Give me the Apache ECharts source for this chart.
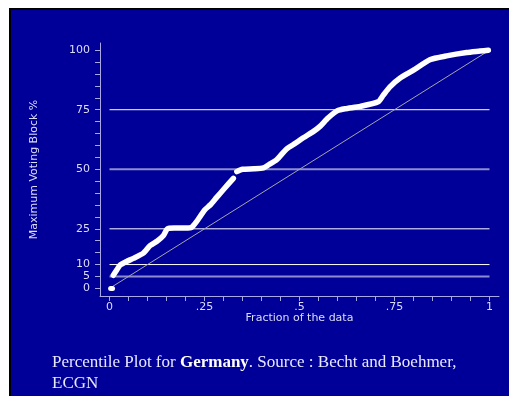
<!DOCTYPE html>
<html>
<head>
<meta charset="utf-8">
<script src="https://cdn.jsdelivr.net/npm/echarts@6/dist/echarts.min.js"></script>
<style>
  html, body { margin: 0; padding: 0; background: #ffffff; overflow: hidden; }
  #chart { width: 509px; height: 396px; }
</style>
</head>
<body>
<div id="chart"></div>
<script>
// Percentile plot: fraction of firms vs. maximum voting block (%)
const zeroFraction = [0.003, 0.008];
const zeroBlock = [0, 0];

const fraction = [0.010, 0.019, 0.028, 0.045, 0.063, 0.089, 0.107, 0.125, 0.142, 0.152,
                  0.170, 0.200, 0.216, 0.229, 0.251, 0.265, 0.282, 0.300, 0.326,
                  null,
                  0.335, 0.350, 0.380, 0.405, 0.420, 0.440, 0.466, 0.490, 0.510, 0.536,
                  0.554, 0.575, 0.600, 0.620, 0.660, 0.707, 0.720, 0.738, 0.765, 0.800,
                  0.843, 0.887, 0.940, 0.975, 0.997];
const maxBlock = [5.5, 7.7, 9.8, 11.3, 12.6, 14.8, 18.0, 19.8, 22.2, 24.9,
                  25.3, 25.3, 25.6, 28.0, 33.0, 35.0, 38.2, 41.5, 46.2,
                  null,
                  49.0, 50.0, 50.2, 50.6, 52.0, 54.0, 58.5, 61.0, 63.2, 65.8,
                  68.0, 71.5, 74.6, 75.4, 76.4, 78.3, 81.0, 84.6, 88.3, 91.6,
                  96.0, 97.6, 99.0, 99.6, 100.0];

// 45-degree reference line
const diagFraction = [0, 1];
const diagBlock = [0, 100];

// horizontal reference lines
const refLevels = [5, 10, 25, 50, 75];

// axis labels
const xLabelValues = [0, 0.25, 0.5, 0.75, 1];
const xLabelText = ['0', '.25', '.5', '.75', '1'];
const yLabelValues = [0, 5, 10, 25, 50, 75, 100];

const xTickValues = [];
for (let i = 0; i <= 20; i++) xTickValues.push(+(i * 0.05).toFixed(2));
const yTickValues = [];
for (let i = 0; i <= 20; i++) yTickValues.push(i * 5);

const pairs = (xs, ys) => xs.map((x, i) => (x === null ? [null, null] : [x, ys[i]]));

const axisColor = '#a8a8e4';
const textColor = '#dcdcf6';
const axisFont = 'DejaVu Sans';

const refStyles = {
  5: { color: 'rgba(255,255,255,0.55)', width: 2 },
  10: { color: '#ffffff', width: 1 },
  25: { color: '#ffffff', width: 1 },
  50: { color: 'rgba(255,255,255,0.55)', width: 2 },
  75: { color: '#ffffff', width: 1 }
};

const refSeries = refLevels.map(v => ({
  type: 'line',
  data: [[0, v], [1, v]],
  symbol: 'none',
  silent: true,
  z: 1,
  lineStyle: { color: refStyles[v].color, width: refStyles[v].width }
}));

const chart = echarts.init(document.getElementById('chart'), null, { renderer: 'canvas' });

chart.setOption({
  backgroundColor: '#ffffff',
  animation: false,
  graphic: [
    { type: 'rect', z: -10, silent: true, shape: { x: 9, y: 8, width: 520, height: 400 }, style: { fill: '#000000' } },
    { type: 'rect', z: -9, silent: true, shape: { x: 11, y: 10, width: 520, height: 400 }, style: { fill: '#000098' } },
    {
      type: 'text', left: 52, top: 354, z: 10,
      style: {
        text: '{n|Percentile Plot for }{b|Germany}{n|. Source : Becht and Boehmer,}\n{n|ECGN}',
        rich: {
          n: { fontFamily: 'Liberation Serif', fontSize: 17, fill: '#e8e8ff', lineHeight: 21 },
          b: { fontFamily: 'Liberation Serif', fontSize: 17, fontWeight: 'bold', fill: '#ffffff', lineHeight: 21 }
        }
      }
    }
  ],
  grid: { left: 100, right: 10, top: 43, bottom: 100, containLabel: false },
  xAxis: {
    type: 'value',
    min: -0.025,
    max: 1.025,
    name: 'Fraction of the data',
    nameLocation: 'middle',
    nameGap: 17,
    nameMoveOverlap: false,
    nameTextStyle: { color: textColor, fontFamily: axisFont, fontSize: 11 },
    axisLine: { onZero: false, lineStyle: { color: axisColor, width: 1 } },
    axisTick: { customValues: xTickValues, length: 5, lineStyle: { color: axisColor } },
    axisLabel: {
      customValues: xLabelValues,
      formatter: v => xLabelText[xLabelValues.indexOf(+v.toFixed(2))],
      color: textColor, fontFamily: axisFont, fontSize: 11, margin: 6
    },
    splitLine: { show: false }
  },
  yAxis: {
    type: 'value',
    min: -3.2,
    max: 103,
    name: 'Maximum Voting Block %',
    nameLocation: 'middle',
    nameRotate: 90,
    nameGap: 60,
    nameMoveOverlap: false,
    nameTextStyle: { color: textColor, fontFamily: axisFont, fontSize: 11 },
    axisLine: { show: true, onZero: false, lineStyle: { color: axisColor, width: 1 } },
    axisTick: { show: true, customValues: yTickValues, length: 5, lineStyle: { color: axisColor } },
    axisLabel: {
      customValues: yLabelValues,
      color: textColor, fontFamily: axisFont, fontSize: 11, margin: 10
    },
    splitLine: { show: false }
  },
  series: [
    ...refSeries,
    {
      type: 'line',
      data: pairs(diagFraction, diagBlock),
      symbol: 'none',
      silent: true,
      z: 2,
      lineStyle: { color: '#a6a6a6', width: 1 }
    },
    {
      type: 'line',
      data: pairs(zeroFraction, zeroBlock),
      symbol: 'none',
      z: 3,
      lineStyle: { color: '#ffffff', width: 5, cap: 'round' }
    },
    {
      type: 'line',
      data: pairs(fraction, maxBlock),
      connectNulls: false,
      symbol: 'none',
      smooth: 0.2,
      z: 3,
      lineStyle: { color: '#ffffff', width: 5.5, cap: 'round', join: 'round' }
    }
  ]
});
</script>
</body>
</html>
